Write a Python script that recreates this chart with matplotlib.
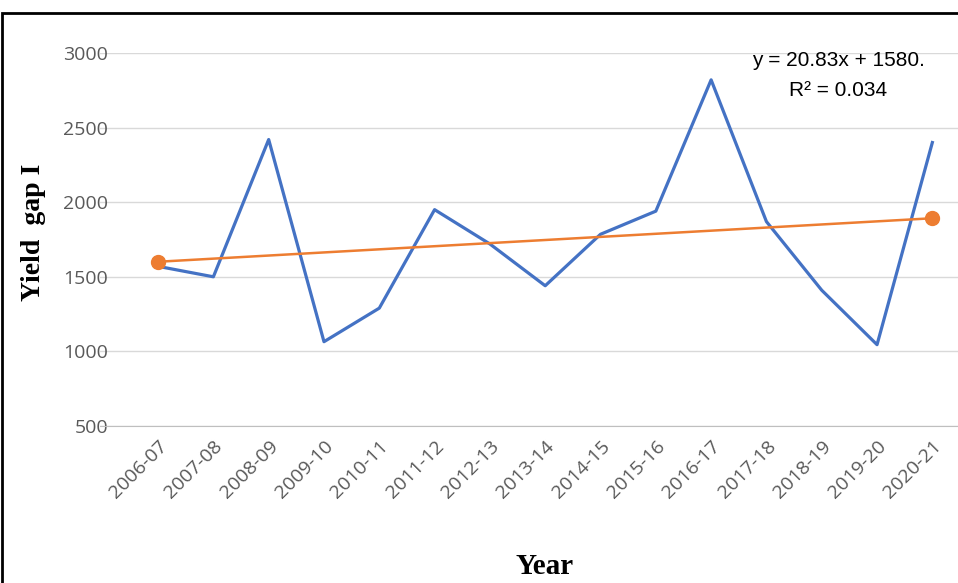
import numpy as np
import matplotlib.pyplot as plt

years = ["2006-07", "2007-08", "2008-09", "2009-10", "2010-11", "2011-12", "2012-13",
         "2013-14", "2014-15", "2015-16", "2016-17", "2017-18", "2018-19", "2019-20", "2020-21"]
yield_gap = [1570, 1500, 2420, 1065, 1290, 1950, 1720, 1440, 1785, 1940, 2820, 1870, 1410, 1045, 2400]
slope, intercept = 20.83, 1580

fig = plt.figure(figsize=(9.58, 5.83), dpi=100)
ax = fig.add_axes([100 / 958, 1 - 426 / 583, 860 / 958, (426 - 53) / 583])

x = np.arange(len(years))
ax.plot(x, yield_gap, color="#4472C4", lw=2.3, zorder=3)
tx = np.array([x[0], x[-1]])
ty = slope * (tx + 1) + intercept
ax.plot(tx, ty, color="#ED7D31", lw=1.8, marker="o", ms=10, zorder=4)

ax.set_xlim(-1.05, 14.5)
ax.set_ylim(500, 3000)
ax.set_yticks(range(500, 3001, 500))
ax.grid(axis="y", color="#D9D9D9", lw=1)
ax.set_axisbelow(True)
for s in ax.spines.values():
    s.set_visible(False)
ax.spines["bottom"].set_visible(True)
ax.spines["bottom"].set_color("#BFBFBF")
ax.tick_params(length=0, labelsize=14, colors="#595959")
ax.set_xticks(x)
ax.set_xticklabels(years, rotation=45, ha="right", rotation_mode="anchor", family="Open Sans")
for lab in ax.get_yticklabels():
    lab.set_family("Open Sans")
ax.tick_params(axis="y", pad=-6)
ax.tick_params(axis="x", pad=8)

fig.text(838 / 958, 1 - 60 / 583, "y = 20.83x + 1580.", ha="center", va="center",
         fontsize=15, family="Liberation Sans")
fig.text(838 / 958, 1 - 90 / 583, "R² = 0.034", ha="center", va="center",
         fontsize=15, family="Liberation Sans")
fig.text(34 / 958, 1 - 232 / 583, "Yield  gap I", rotation=90, ha="center", va="center",
         fontsize=20, fontweight="bold", family="Liberation Serif")
fig.text(545 / 958, 1 - 566 / 583, "Year", ha="center", va="center",
         fontsize=21, fontweight="bold", family="Liberation Serif")

border = plt.Rectangle((0.002, -0.01), 1.2, 1 - 0.002 - 12 / 583 + 0.01, transform=fig.transFigure,
                       fill=False, edgecolor="black", lw=2)
fig.patches.append(border)

fig.savefig("out.png", dpi=100)
